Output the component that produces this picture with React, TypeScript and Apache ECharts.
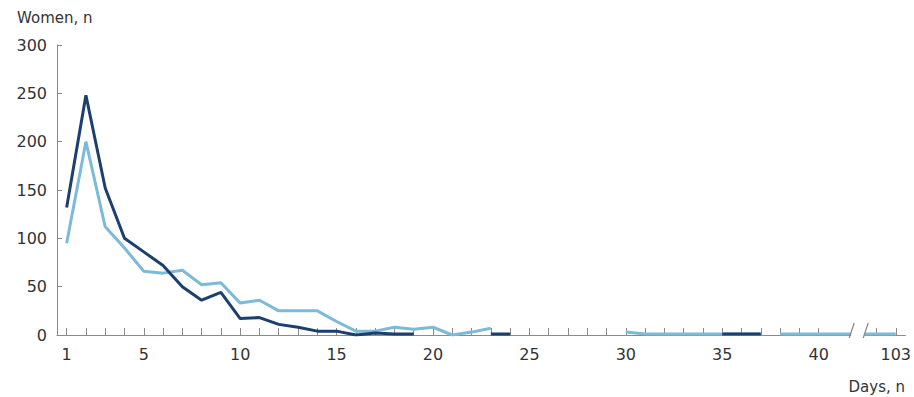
import React, { useEffect, useRef } from "react";
import * as echarts from "echarts";

const categories = [
  "1","2","3","4","5","6","7","8","9","10",
  "11","12","13","14","15","16","17","18","19","20",
  "21","22","23","24","25","26","27","28","29","30",
  "31","32","33","34","35","36","37","38","39","40",
  "41","42","102","103",
];
const shownLabels = ["1","5","10","15","20","25","30","35","40","103"];
const hiddenTickIdx = [40, 41];

const lightMain: (number | null)[] = [
  95,200,112,90,66,64,67,52,54,33,
  36,25,25,25,14,4,4,8,6,8,
  0,3,7,null,null,null,null,null,null,3,
  1,1,1,1,1,1,1,null,null,null,
  null,null,null,null,
];
const lightTail: (number | null)[] = [
  null,null,null,null,null,null,null,null,null,null,
  null,null,null,null,null,null,null,null,null,null,
  null,null,null,null,null,null,null,null,null,null,
  null,null,null,null,null,null,null,1,1,1,
  1,1,1,1,
];
const dark: (number | null)[] = [
  132,248,152,100,86,72,50,36,44,17,
  18,11,8,4,4,0,2,1,1,null,
  null,null,1,1,null,null,null,null,null,null,
  null,null,null,null,1,1,1,null,null,null,
  null,null,null,null,
];
const yTicks = { min: 0, max: 300, interval: 50 };

const DARK = "#1b3f6e";
const LIGHT = "#7bbad8";
const FONT = "DejaVu Sans";
const AXIS = "#8a8a8a";

export default function App() {
  const ref = useRef<HTMLDivElement>(null);
  useEffect(() => {
    if (!ref.current) return;
    const chart = echarts.init(ref.current, null, { renderer: "svg" });
    chart.setOption({
      animation: false,
      title: [
        { text: "Women, n", left: 12, top: 5, textStyle: { fontFamily: FONT, fontSize: 15, fontWeight: "normal", color: "#333" } },
        { text: "Days, n", right: 4, top: 374, textStyle: { fontFamily: FONT, fontSize: 15, fontWeight: "normal", color: "#333" } },
      ],
      grid: { left: 57, right: 6, top: 45, bottom: 62 },
      xAxis: {
        type: "category",
        data: categories,
        boundaryGap: true,
        axisLine: { lineStyle: { color: AXIS, width: 1 } },
        axisTick: {
          show: true,
          alignWithLabel: true,
          inside: true,
          length: 7,
          lineStyle: { color: AXIS, width: 1 },
          interval: (i: number) => !hiddenTickIdx.includes(i),
        },
        axisLabel: {
          interval: (_i: number, v: string) => shownLabels.includes(v),
          margin: 11,
          fontFamily: FONT,
          fontSize: 16,
          color: "#333",
        },
        splitLine: { show: false },
      },
      yAxis: {
        type: "value",
        min: yTicks.min,
        max: yTicks.max,
        interval: yTicks.interval,
        axisLine: { show: true, lineStyle: { color: AXIS, width: 1 } },
        axisTick: { show: true, inside: true, length: 5, lineStyle: { color: AXIS, width: 1 } },
        axisLabel: { margin: 10, fontFamily: FONT, fontSize: 16, color: "#333" },
        splitLine: { show: false },
      },
      series: [
        { type: "line", data: lightMain, showSymbol: false, symbol: "none", connectNulls: false, lineStyle: { color: LIGHT, width: 3 }, itemStyle: { color: LIGHT } },
        { type: "line", data: lightTail, showSymbol: false, symbol: "none", connectNulls: false, lineStyle: { color: LIGHT, width: 3 }, itemStyle: { color: LIGHT } },
        { type: "line", data: dark, showSymbol: false, symbol: "none", connectNulls: false, lineStyle: { color: DARK, width: 3 }, itemStyle: { color: DARK } },
      ],
    });
    const bx = chart.convertToPixel({ xAxisIndex: 0 }, 41) as number;
    const by = chart.convertToPixel({ yAxisIndex: 0 }, 0) as number;
    chart.setOption({
      graphic: [
        { type: "rect", z: 100, shape: { x: bx - 6, y: by - 10, width: 13, height: 14 }, style: { fill: "#fff" } },
        { type: "line", z: 101, shape: { x1: bx - 8, y1: by + 3, x2: bx - 3, y2: by - 12 }, style: { stroke: "#888", lineWidth: 1.2 } },
        { type: "line", z: 101, shape: { x1: bx + 6, y1: by + 3, x2: bx + 11, y2: by - 12 }, style: { stroke: "#888", lineWidth: 1.2 } },
      ],
    });
    return () => chart.dispose();
  }, []);
  return <div ref={ref} style={{ width: 914, height: 397, position: "absolute", left: 0, top: 0 }} />;
}
